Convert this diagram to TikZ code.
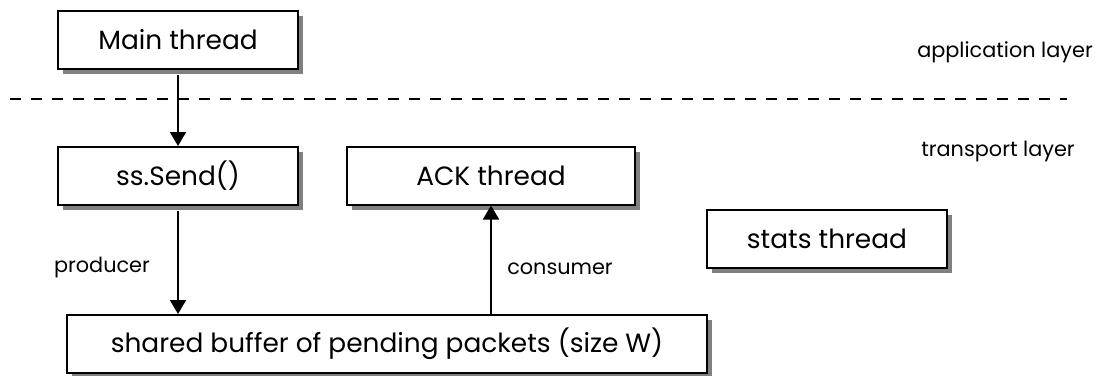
\documentclass[tikz,border=0pt]{standalone}
\usepackage{fontspec}
\setmainfont{Poppins}
\usetikzlibrary{arrows.meta,shadows}
\begin{document}
\begin{tikzpicture}[x=0.5pt, y=-0.5pt, line join=miter, >={Triangle[width=8pt,length=7pt]},
    thread/.style={draw, line width=1pt, fill=white, minimum width=120pt, minimum height=29pt,
      font=\fontsize{13.2}{15}\selectfont,
      drop shadow={shadow xshift=2.5pt, shadow yshift=-2.5pt, fill=gray, opacity=1}},
    lbl/.style={font=\fontsize{10.4}{12}\selectfont},
    flow/.style={->, line width=0.9pt}]
  \useasboundingbox (0,0) rectangle (1096,375);
  \path (10,99) coordinate(L) (1067,99) coordinate(R);
  % threads
  \node[thread] (main) at (178,40) {Main thread};
  \node[thread] (send) at (178,176) {ss.Send()};
  \node[thread, minimum width=144pt] (ack) at (491,175.5) {ACK thread};
  \node[thread] (stats) at (827,238.5) {stats thread};
  \node[thread, minimum width=320pt] (buf) at (387,344) {shared buffer of pending packets (size W)};
  % layers
  \draw[dash pattern=on 5.5pt off 5pt, line width=0.6pt] (L) -- (R);
  \node[lbl] (app) at (1005,52) {application layer};
  \node[lbl] (trans) at (998,152) {transport layer};
  % connectors
  \draw[flow, shorten <=2.5pt] (main) -- (send);
  \draw[flow, shorten <=2.5pt] (send.south) -- (send.south |- buf.north);
  \draw[flow] (ack.south |- buf.north) -- (ack.south);
  \node[lbl] (prod) at (102,268) {producer};
  \node[lbl] (cons) at (560,269) {consumer};
\end{tikzpicture}
\end{document}
